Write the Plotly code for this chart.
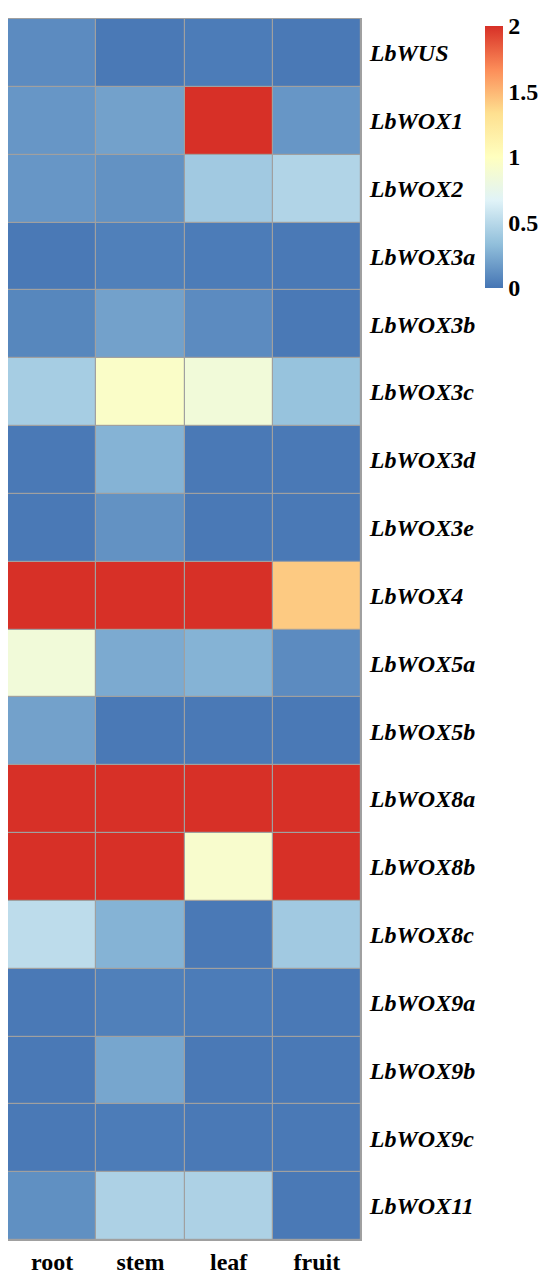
import plotly.graph_objects as go

tissues = ["root", "stem", "leaf", "fruit"]
genes = ["LbWUS", "LbWOX1", "LbWOX2", "LbWOX3a", "LbWOX3b", "LbWOX3c",
         "LbWOX3d", "LbWOX3e", "LbWOX4", "LbWOX5a", "LbWOX5b", "LbWOX8a",
         "LbWOX8b", "LbWOX8c", "LbWOX9a", "LbWOX9b", "LbWOX9c", "LbWOX11"]

root  = [0.10, 0.15, 0.15, 0.02, 0.08, 0.42, 0.02, 0.02, 2.00, 0.85, 0.20, 2.00, 2.00, 0.52, 0.02, 0.02, 0.02, 0.12]
stem  = [0.02, 0.20, 0.13, 0.05, 0.20, 0.95, 0.28, 0.13, 2.00, 0.24, 0.02, 2.00, 2.00, 0.28, 0.05, 0.22, 0.03, 0.45]
leaf  = [0.03, 2.00, 0.40, 0.03, 0.10, 0.85, 0.02, 0.02, 2.00, 0.28, 0.02, 2.00, 0.92, 0.02, 0.03, 0.02, 0.02, 0.45]
fruit = [0.02, 0.15, 0.47, 0.02, 0.02, 0.36, 0.02, 0.02, 1.42, 0.10, 0.02, 2.00, 2.00, 0.40, 0.02, 0.02, 0.02, 0.02]

colorbar_ticks = [0, 0.5, 1, 1.5, 2]
colorbar_ticktext = ["0", "0.5", "1", "1.5", "2"]

z = [[root[i], stem[i], leaf[i], fruit[i]] for i in range(len(genes))]

colorscale = [
    [0.0, "#4575B4"], [1/6, "#91BFDB"], [2/6, "#E0F3F8"], [3/6, "#FFFFBF"],
    [4/6, "#FEE090"], [5/6, "#FC8D59"], [1.0, "#D73027"],
]

# page has an 8px body margin; figure occupies page (8..550, 8..1274)
OFF = 8
W, H = 550 - OFF, 1274 - OFF
plot_l, plot_r, plot_t, plot_b = 8, 361, 19, 1240   # page pixels
ml = plot_l - OFF
mr = 550 - plot_r
mt = plot_t - OFF
mb = 1274 - plot_b
plot_w = plot_r - plot_l
plot_h = plot_b - plot_t

def py(px):
    return (plot_b - px) / plot_h

def pxx(px):
    return (px - plot_l) / plot_w

cb_top, cb_bot = 26, 288
font_fam = "Liberation Serif"

fig = go.Figure(go.Heatmap(
    z=z, x=tissues, y=genes,
    zmin=0, zmax=2, colorscale=colorscale,
    xgap=1.2, ygap=1.2,
    colorbar=dict(
        x=pxx(485), xanchor="left",
        y=py(cb_top), yanchor="top",
        len=(cb_bot - cb_top) / plot_h, lenmode="fraction",
        thickness=18, thicknessmode="pixels",
        outlinewidth=0, xpad=0, ypad=0,
        tickvals=colorbar_ticks, ticktext=colorbar_ticktext,
        ticks="", ticklen=0,
        tickfont=dict(family=font_fam, size=24, color="black", weight="bold"),
    ),
    hoverongaps=False,
))

fig.update_layout(
    width=W, height=H,
    margin=dict(l=ml, r=mr, t=mt, b=mb, autoexpand=False),
    paper_bgcolor="white",
    plot_bgcolor="#A0A0A0",
    xaxis=dict(
        side="bottom", showgrid=False, zeroline=False, ticks="", automargin=False,
        tickfont=dict(family=font_fam, size=24, color="black", weight="bold"),
        showline=True, linecolor="#A0A0A0", linewidth=1, mirror=True,
        ticklabelstandoff=0,
    ),
    yaxis=dict(
        side="right", autorange="reversed", showgrid=False, zeroline=False, ticks="",
        automargin=False,
        tickfont=dict(family=font_fam, size=24, color="black", weight="bold", style="italic"),
        showline=True, linecolor="#A0A0A0", linewidth=1, mirror=True,
        ticklabelstandoff=3,
    ),
)

fig.write_html("out.html")
